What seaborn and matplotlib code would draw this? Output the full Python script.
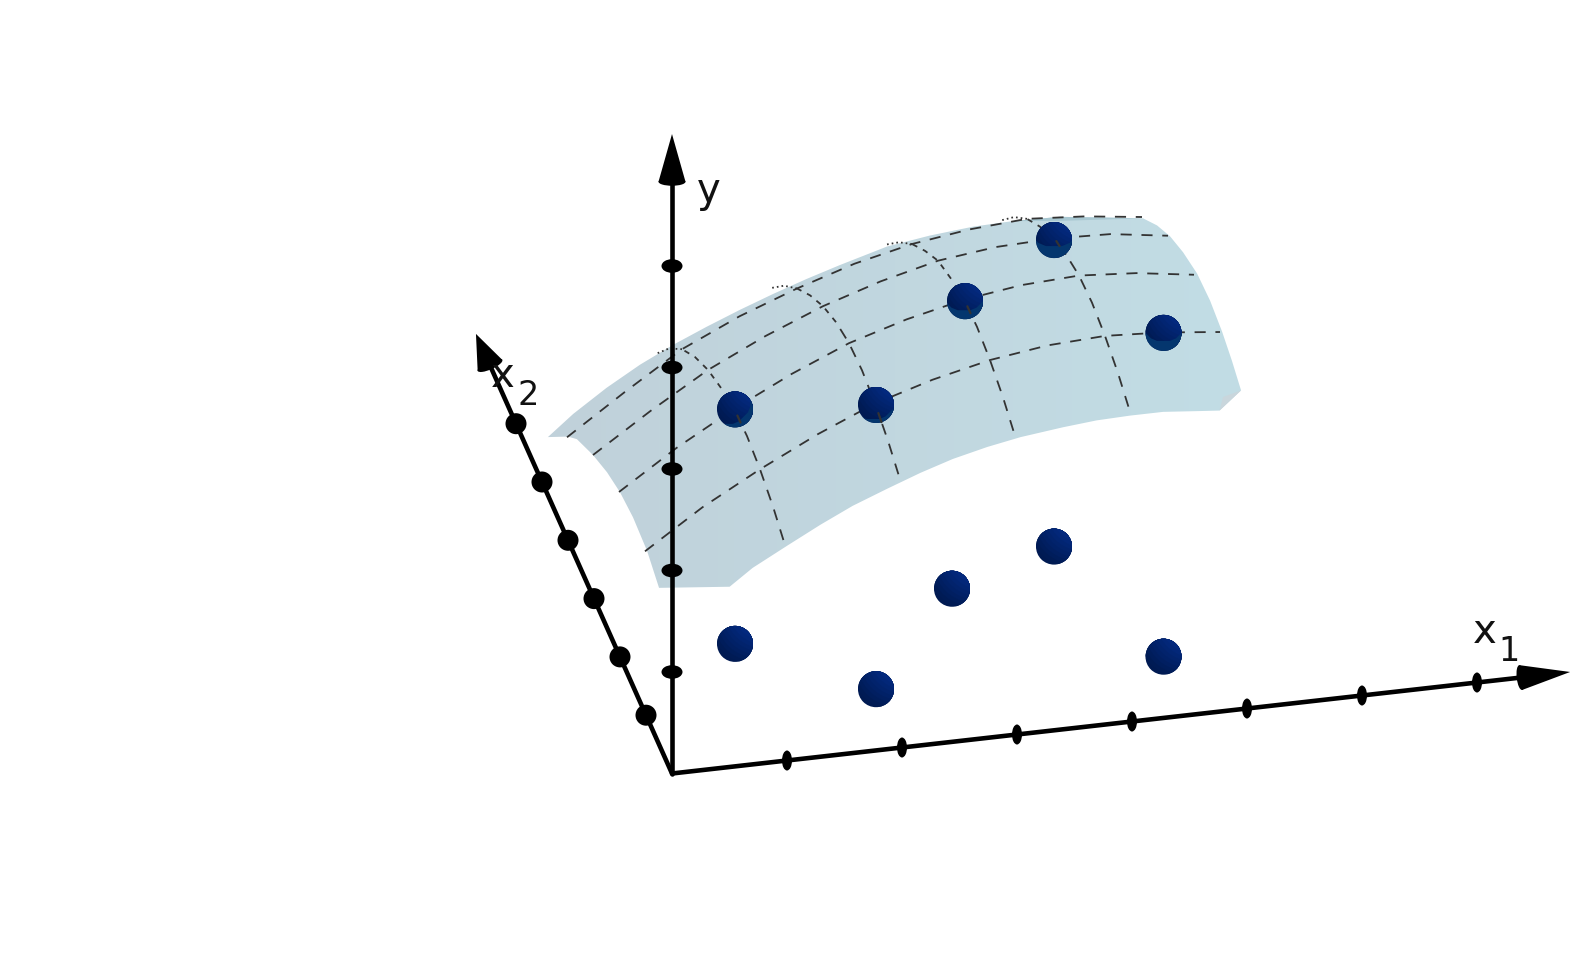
#!/usr/bin/env python3

import numpy as np
import seaborn as sns
import matplotlib.pyplot as plt
from matplotlib.markers import MarkerStyle
from matplotlib.patches import Circle, Ellipse, PathPatch, Polygon
from matplotlib.path import Path
from matplotlib.colors import LinearSegmentedColormap
from matplotlib.transforms import Affine2D

# sample points
point_x1 = [1, 2, 3, 4, 4.5]
point_x2 = [2, 1, 2, 3, 1]
point_y = [2.31, 2.80, 3.12, 3.02, 3.19]
floor_x1 = [1, 2, 3, 4, 4.5]
floor_x2 = [2, 1, 2.5, 3, 1]
floor_y = [0, 0, 0, 0, 0]

# axis ticks
x1_ticks = [1, 2, 3, 4, 5, 6, 7]
x2_ticks = [1, 2, 3, 4, 5, 6]
y_ticks = [1, 2, 3, 4, 5]
x1_end = 7.81
x2_end = 7.54
y_end = 6.30

# surface mesh read along lines of constant x2
mesh_x1 = [0, 0.5, 1, 1.5, 2, 2.5, 3, 3.5, 4, 4.5, 5]
mesh_x2_levels = [1, 2, 3, 4]
mesh_y_x2_1 = [1.60, 1.97, 2.28, 2.56, 2.80, 2.97, 3.10, 3.18, 3.21, 3.18, 3.12]
mesh_y_x2_2 = [1.61, 1.98, 2.30, 2.58, 2.82, 2.99, 3.12, 3.20, 3.23, 3.19, 3.11]
mesh_y_x2_3 = [1.40, 1.77, 2.11, 2.38, 2.61, 2.79, 2.93, 3.00, 3.02, 3.00, 2.92]
mesh_y_x2_4 = [1.00, 1.38, 1.74, 2.00, 2.21, 2.39, 2.52, 2.60, 2.64, 2.60, 2.53]

# surface mesh read along lines of constant x1
mesh_x2 = [0.1, 0.5, 1, 1.5, 2, 2.5, 3, 3.5, 4, 4.5, 5]
mesh_x1_levels = [1, 2, 3, 4]
mesh_y_x1_1 = [2.10, 2.20, 2.28, 2.32, 2.30, 2.22, 2.11, 1.95, 1.74, 1.46, 1.12]
mesh_y_x1_2 = [2.62, 2.72, 2.80, 2.84, 2.82, 2.74, 2.61, 2.43, 2.21, 1.95, 1.64]
mesh_y_x1_3 = [2.92, 3.02, 3.10, 3.14, 3.12, 3.04, 2.93, 2.74, 2.52, 2.25, 1.94]
mesh_y_x1_4 = [3.03, 3.13, 3.21, 3.25, 3.23, 3.15, 3.02, 2.85, 2.64, 2.37, 2.05]

# outline of the surface: front edge, right edge, top fold, left edge
edge_x1 = [0.51, 0.71, 1.01, 1.30, 1.58, 1.88, 2.17, 2.45, 2.75, 3.04, 3.41, 3.70, 3.99, 4.28, 4.57, 4.77,
           5, 5, 5, 5, 5, 5, 5, 5, 5,
           4.86, 4.51, 4.10, 3.76, 3.38, 3.01, 2.60, 2.31, 2.02, 1.73, 1.44, 1.15, 0.86, 0.57, 0.28, 0.06,
           0, 0, 0, 0, 0, 0, 0, 0]
edge_x2 = [0] * 16 + [0.19, 0.54, 0.92, 1.38, 1.88, 2.42, 2.92, 3.42, 3.96] + [5] * 16 + \
          [3.96, 3.62, 3.00, 2.46, 1.96, 1.46, 0.92, 0.46]
edge_y = [1.76, 1.92, 2.10, 2.27, 2.42, 2.55, 2.67, 2.77, 2.85, 2.91, 2.96, 2.99, 3.00, 3.00, 2.97, 2.95,
          3.01, 3.10, 3.17, 3.21, 3.19, 3.09, 2.96, 2.78, 2.54,
          1.97, 2.02, 2.03, 2.02, 1.98, 1.92, 1.79, 1.69, 1.58, 1.46, 1.33, 1.19, 1.03, 0.84, 0.62, 0.42,
          1.03, 1.20, 1.40, 1.54, 1.63, 1.67, 1.65, 1.55]

# small turned over pieces of the surface
flap_x1 = [4.77, 5, 4.80]
flap_x2 = [0, 0.19, 0]
flap_y = [2.95, 3.01, 3.08]
band_x1 = [4.10, 4.51, 5, 4.51]
band_x2 = [5, 5, 3.96, 5]
band_y = [2.03, 2.02, 2.54, 1.98]

# mesh dashes that lie in front of the spheres
front_x1 = [1, 2, 3, 4]
front_x2_start = [1.75, 0.75, 1.75, 2.75]
front_x2_end = [1.87, 0.87, 1.87, 2.87]
front_y_start = [2.31, 2.76, 3.13, 3.09]
front_y_end = [2.31, 2.78, 3.13, 3.07]

# where the surface cuts each upper sphere
cut_dx = [-8.5, -3, -1, 0, 0]
cut_dy = [-9.6, -10, -15, -24, -16]
cut_r = [24, 24, 24, 30, 24]

AXES_ORIGIN = (672, 774.5)
SURFACE_ORIGIN = (671, 773)


def project(x1, x2, y, origin=AXES_ORIGIN):
    # oblique view of the three axes, in image pixels
    x1, x2, y = np.asarray(x1, float), np.asarray(x2, float), np.asarray(y, float)
    return origin[0] + 115 * x1 - 26 * x2, origin[1] - 13 * x1 - 58.3 * x2 - 101.5 * y


def line(ax, x1, x2, y, color="black", lw=3.3, ls="-", z=3, origin=AXES_ORIGIN):
    px, py = project(x1, x2, y, origin)
    sns.lineplot(x=px, y=py, ax=ax, sort=False, estimator=None, errorbar=None,
                 color=color, linewidth=lw, linestyle=ls, zorder=z, legend=False)


def marks(ax, px, py, size, color="black", marker="o", z=4):
    sns.scatterplot(x=px, y=py, ax=ax, s=(size * 0.72) ** 2, color=color,
                    marker=marker, linewidth=0, edgecolor="none", zorder=z,
                    legend=False)
    return ax.collections[-1]


def arrow(ax, x1, x2, y, width):
    # cone head with a rounded base
    tx, ty = project(x1[1], x2[1], y[1])
    bx, by = project(x1[0], x2[0], y[0])
    dx, dy = tx - bx, ty - by
    length = np.hypot(dx, dy)
    nx, ny = -dy / length * width / 2, dx / length * width / 2
    ax.add_patch(Polygon([(tx, ty), (bx + nx, by + ny), (bx - nx, by - ny)],
                         color="black", lw=0, zorder=4))
    ax.add_patch(Ellipse((bx, by), width, 8, angle=np.degrees(np.arctan2(ny, nx)),
                         color="black", lw=0, zorder=4))


def sphere(ax, px, py, cut=None):
    clip = Circle((px, py), 18, transform=ax.transData)
    marks(ax, [px], [py], 36, color="#001a52", z=6)
    # bright side towards the upper right
    shades = sns.blend_palette(["#001b55", "#03297e"], 8)
    for i, t in enumerate(np.linspace(-14, 14, 8)):
        coll = marks(ax, [px + 0.64 * (40 + t)], [py - 0.77 * (40 + t)], 80,
                     color=shades[i], z=6 + i * 0.01)
        coll.set_clip_path(clip)
    if cut is not None:
        dx, dy, r = cut
        s = 30
        box = Path([(px - s, py - s), (px + s, py - s), (px + s, py + s), (px - s, py + s),
                    (px - s, py - s)], closed=True)
        hole = Path.circle((px + dx, py + dy), r)
        hole = Path(hole.vertices[::-1], None)
        lune = PathPatch(Path.make_compound_path(box, hole),
                         facecolor="#04366e", edgecolor="none", zorder=6.5)
        ax.add_patch(lune)
        lune.set_clip_path(clip)


sns.set_style("white")
plt.rcParams["lines.scale_dashes"] = False
plt.rcParams["font.family"] = ["DejaVu Sans"]

fig = plt.figure(figsize=(15.7, 9.62), dpi=100)
ax = fig.add_axes([0, 0, 1, 1])

# surface with a soft left to right shade
ex, ey = project(edge_x1, edge_x2, edge_y, SURFACE_ORIGIN)
outline = Polygon(np.column_stack([ex, ey]), closed=True, transform=ax.transData,
                  facecolor="none", edgecolor="none")
ax.add_patch(outline)
shade = LinearSegmentedColormap.from_list("shade", ["#c0d1da", "#c2dde5"])
im = ax.imshow(np.linspace(0, 1, 256)[None, :], cmap=shade, aspect="auto",
               extent=(540, 1250, 600, 210), zorder=1)
im.set_clip_path(outline)
fx, fy = project(flap_x1, flap_x2, flap_y, SURFACE_ORIGIN)
ax.add_patch(Polygon(np.column_stack([fx, fy]), facecolor="#c9d6dc", edgecolor="none", zorder=1.5))
fx, fy = project(band_x1, band_x2, band_y, SURFACE_ORIGIN)
ax.add_patch(Polygon(np.column_stack([fx, fy]), facecolor="#a9c8d2", edgecolor="none", zorder=1.5))

long_dash = (0, (8, 7))
short_dash = (0, (4, 4.5))
dots = (0, (1.2, 2.2))
ink = "#333333"

for level, values in zip(mesh_x2_levels,
                         [mesh_y_x2_1, mesh_y_x2_2, mesh_y_x2_3, mesh_y_x2_4]):
    line(ax, mesh_x1, [level] * len(mesh_x1), values, color=ink, lw=1.3, ls=long_dash, z=2,
         origin=SURFACE_ORIGIN)

for level, values in zip(mesh_x1_levels,
                         [mesh_y_x1_1, mesh_y_x1_2, mesh_y_x1_3, mesh_y_x1_4]):
    n = len(mesh_x2)
    line(ax, [level] * 6, mesh_x2[:6], values[:6], color=ink, lw=1.3, ls=long_dash, z=2,
         origin=SURFACE_ORIGIN)
    line(ax, [level] * 4, mesh_x2[5:9], values[5:9], color=ink, lw=1.3, ls=short_dash, z=2,
         origin=SURFACE_ORIGIN)
    line(ax, [level] * 3, mesh_x2[8:n], values[8:n], color=ink, lw=1.3, ls=dots, z=2,
         origin=SURFACE_ORIGIN)

# axes
line(ax, [0, x1_end - 0.4], [0, 0], [0, 0])
line(ax, [0, 0], [0, x2_end - 0.5], [0, 0])
line(ax, [0, 0], [0, 0], [0, y_end - 0.4])
arrow(ax, [x1_end - 0.43, x1_end], [0, 0], [0, 0], 25)
arrow(ax, [0, 0], [x2_end - 0.54, x2_end], [0, 0], 27)
arrow(ax, [0, 0], [0, 0], [y_end - 0.47, y_end], 27)

tx, ty = project(x1_ticks, [0] * len(x1_ticks), [0] * len(x1_ticks))
marks(ax, tx, ty, 20, marker=MarkerStyle("o", transform=Affine2D().scale(0.5, 1)))
tx, ty = project([0] * len(x2_ticks), x2_ticks, [0] * len(x2_ticks))
marks(ax, tx, ty, 21)
tx, ty = project([0] * len(y_ticks), [0] * len(y_ticks), y_ticks)
marks(ax, tx, ty, 21, marker=MarkerStyle("o", transform=Affine2D().scale(1, 0.65)))

# spheres
for a, b, c in zip(floor_x1, floor_x2, floor_y):
    sphere(ax, *project(a, b, c))
for i in range(len(point_x1)):
    sphere(ax, *project(point_x1[i], point_x2[i], point_y[i]), cut=(cut_dx[i], cut_dy[i], cut_r[i]))

for i in range(len(front_x1)):
    line(ax, [front_x1[i]] * 2, [front_x2_start[i], front_x2_end[i]],
         [front_y_start[i], front_y_end[i]], color=ink, lw=1.6, z=7, origin=SURFACE_ORIGIN)

ax.text(1485, 643, "x", fontsize=29, ha="center", va="baseline", color="#111111", zorder=8)
ax.text(1509, 661, "1", fontsize=24, ha="center", va="baseline", color="#111111", zorder=8)
ax.text(503, 387, "x", fontsize=29, ha="center", va="baseline", color="#111111", zorder=8)
ax.text(528, 405, "2", fontsize=24, ha="center", va="baseline", color="#111111", zorder=8)
ax.text(709, 202, "y", fontsize=29, ha="center", va="baseline", color="#111111", zorder=8)

ax.set_xlim(0, 1570)
ax.set_ylim(962, 0)
ax.set_axis_off()
fig.savefig("out.png", dpi=100, facecolor="white")
